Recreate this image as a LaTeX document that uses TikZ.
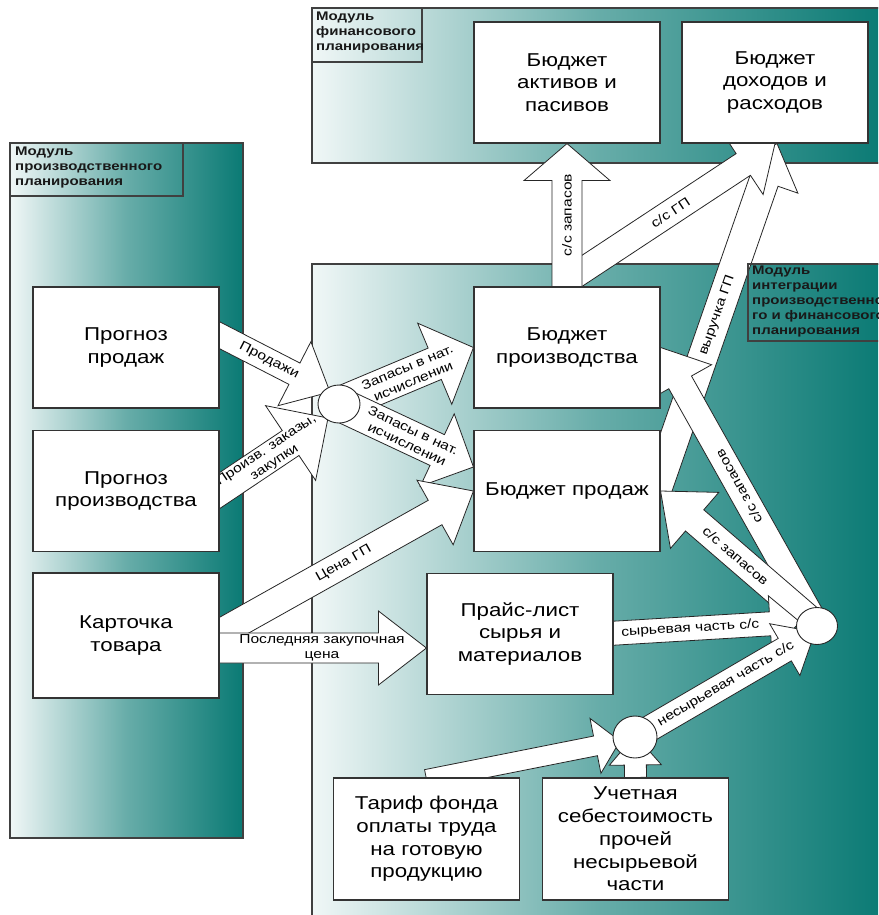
\documentclass[tikz,border=0pt]{standalone}
\usepackage{fontspec}
\setmainfont[FakeStretch=1.2]{Liberation Sans}
\usetikzlibrary{calc,shapes.geometric}
\pgfdeclarelayer{bg}
\pgfdeclarelayer{arr}
\pgfsetlayers{bg,arr,main}
\definecolor{teal1}{RGB}{10,122,116}
\tikzset{
 panel/.style={draw=black!75, line width=1.1pt, left color=teal1!6!white, right color=teal1, middle color=teal1!62!white},
 modlbl/.style={draw=black!75, line width=1.1pt},
 modtxt/.style={font=\bfseries\fontsize{12.5}{15}\selectfont, align=left, anchor=north west, inner sep=0pt, text=black!90},
 box/.style={draw=black!80, line width=1.1pt, fill=white, minimum width=186pt, minimum height=121pt, align=center, font=\fontsize{18.6}{22.7}\selectfont, inner sep=1pt},
 blk/.style={draw=black!85, fill=white, line width=0.8pt, line join=miter},
 lbl/.style={font=\fontsize{13}{15}\selectfont, align=center, inner sep=0pt},
 hub/.style={ellipse, draw=black!85, fill=white, line width=0.9pt, inner sep=0pt},
}
% block arrow: #1 start, #2 tip, #3 shaft half width, #4 head half width, #5 head length
\newcommand\barrow[5]{%
 \coordinate (bh) at ($(#2)!#5pt!(#1)$);
 \filldraw[blk] ($(#1)!#3pt!90:(#2)$) -- ($(bh)!#3pt!90:(#2)$) -- ($(bh)!#4pt!90:(#2)$) -- (#2) -- ($(bh)!#4pt!-90:(#2)$) -- ($(bh)!#3pt!-90:(#2)$) -- ($(#1)!#3pt!-90:(#2)$) -- cycle;}
\begin{document}
\begin{tikzpicture}[x=1pt,y=-1pt]
\useasboundingbox (0,0) rectangle (878,915);
\begin{pgfonlayer}{bg}
\clip (0,0) rectangle (878,915);
\path[panel] (312,8) rectangle (884,163);
\path[panel] (10,143) rectangle (243,838);
\path[panel] (312,264) rectangle (884,930);
\end{pgfonlayer}
\clip (0,0) rectangle (878,915);
% module labels
\draw[modlbl] (312,8) rectangle (422,62);
\node[modtxt] (lf) at (316,12) {Модуль\\финансового\\планирования};
\draw[modlbl] (10,143) rectangle (183,196);
\node[modtxt] (lp) at (15,147) {Модуль\\производственного\\планирования};
\draw[modlbl] (748,264) rectangle (884,341);
\node[modtxt] (li) at (752,266) {Модуль\\интеграции\\производственно\\го и финансового\\планирования};
% boxes
\node[box] (fa) at (567,82.5) {Бюджет\\активов и\\пасивов};
\node[box] (fd) at (775,82.5) {Бюджет\\доходов и\\расходов};
\node[box] (pp) at (126,347.5) {Прогноз\\продаж};
\node[box] (pr) at (126,491) {Прогноз\\производства};
\node[box, minimum height=125pt] (kt) at (126,635.5) {Карточка\\товара};
\node[box] (bp) at (567,347.5) {Бюджет\\производства};
\node[box] (bs) at (567,491) {Бюджет продаж};
\node[box] (pl) at (520,634) {Прайс-лист\\сырья и\\материалов};
\node[box, minimum height=122pt] (tf) at (426.5,839) {Тариф фонда\\оплаты труда\\на готовую\\продукцию};
\node[box, minimum height=122pt] (us) at (635.5,839) {Учетная\\себестоимость\\прочей\\несырьевой\\части};
% hubs
\node[hub, minimum width=42pt, minimum height=38pt] (c1) at (339,404) {};
\node[hub, minimum width=41pt, minimum height=37pt] (c2) at (817,626) {};
\node[hub, minimum width=44pt, minimum height=42pt] (c3) at (635,737) {};
% arrows
\begin{pgfonlayer}{arr}
\clip (0,0) rectangle (878,915);
\coordinate (a1s) at ($(pp.east)+(-14,-19.5)$);
\coordinate (a1t) at ($(c1.center)+(-9,-12)$);
\barrow{a1s}{a1t}{12}{36}{40}
\path (a1s) -- (a1t) node[lbl, sloped, pos=0.51] (t1) {Продажи};
\coordinate (a2s) at ($(pr.east)+(-14,9)$);
\coordinate (a2t) at ($(c1.center)+(-11,14)$);
\barrow{a2s}{a2t}{15}{45}{45}
\path (a2s) -- (a2t) node[lbl, sloped, pos=0.53] (t2) {Произв. заказы,\\закупки};
\barrow{c1.center}{bp.west}{17}{44}{42}
\path (c1.center) -- (bp.west) node[lbl, sloped, pos=0.53] (t3) {Запасы в нат.\\исчислении};
\coordinate (a4t) at ($(bs.west)+(0,-24)$);
\barrow{c1.center}{a4t}{17}{40}{40}
\path (c1.center) -- (a4t) node[lbl, sloped, pos=0.53] (t4) {Запасы в нат.\\исчислении};
\coordinate (a5s) at ($(kt.east)+(-19,8.5)$);
\barrow{a5s}{bs.west}{14}{37}{44}
\path (a5s) -- (bs.west) node[lbl, sloped, pos=0.525] (t5) {Цена ГП};
\coordinate (a6s) at ($(kt.east)+(-5,12.5)$);
\coordinate (a6t) at ($(pl.west)+(0,14)$);
\barrow{a6s}{a6t}{15}{37}{48}
\path (a6s) -- (a6t) node[lbl, pos=0.507] (t6) {Последняя закупочная\\цена};
\coordinate (a9s) at ($(bs.east)+(-4,-1)$);
\coordinate (a9t) at ($(fd.south)+(2,0)$);
\barrow{a9s}{a9t}{15}{36}{40}
\path (a9s) -- (a9t) node[lbl, sloped, pos=0.504] (t9) {выручка ГП};
\coordinate (a8s) at ($(bp.north)+(5,-9)$);
\barrow{a8s}{fd.south}{13}{36}{38}
\path (a8s) -- (fd.south) node[lbl, sloped, pos=0.485] (t8) {с/с ГП};
\barrow{bp.north}{fa.south}{15}{43}{37}
\path (bp.north) -- (fa.south) node[lbl, sloped, pos=0.5] (t7) {с/с запасов};
\barrow{c2.center}{bp.east}{13}{36}{40}
\path (c2.center) -- (bp.east) node[lbl, sloped, allow upside down, pos=0.5] (t10) {с/с запасов};
\barrow{c2.center}{bs.east}{14}{37}{45}
\path (c2.center) -- (bs.east) node[lbl, sloped, pos=0.52] (t11) {с/с запасов};
\coordinate (a12s) at ($(pl.east)+(-13,0)$);
\coordinate (a12t) at ($(c2.center)+(-17,-4)$);
\barrow{a12s}{a12t}{12}{28}{30}
\path (a12s) -- (a12t) node[lbl, sloped, pos=0.45] (t12) {сырьевая часть с/с};
\coordinate (a13t) at ($(c2.center)+(-2,6)$);
\barrow{c3.center}{a13t}{13}{30}{35}
\path (c3.center) -- (a13t) node[lbl, sloped, pos=0.505] (t13) {несырьевая часть с/с};
\coordinate (a14s) at ($(tf.north)+(0,2)$);
\coordinate (a14t) at ($(c3.center)+(-15,4)$);
\barrow{a14s}{a14t}{10}{28}{25}
\coordinate (a15t) at ($(c3.center)+(0,-2)$);
\barrow{us.north}{a15t}{11}{26}{30}
\end{pgfonlayer}
\end{tikzpicture}
\end{document}
